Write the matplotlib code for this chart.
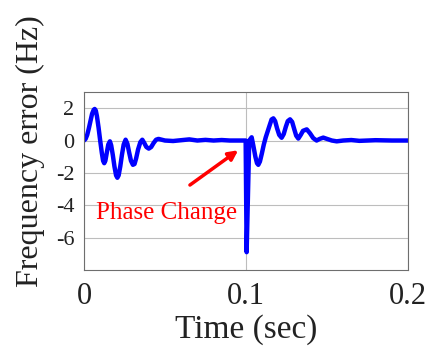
import matplotlib
matplotlib.use("Agg")
import matplotlib.pyplot as plt

plt.rcParams['font.family'] = ['Liberation Serif', 'DejaVu Serif']
plt.rcParams['axes.unicode_minus'] = False

# frequency error trace (time in s, error in Hz)
time_s = [0.000, 0.001, 0.002, 0.003, 0.004, 0.005, 0.006, 0.0066, 0.0073,
          0.008, 0.009, 0.010, 0.011, 0.0118, 0.0125, 0.0132, 0.014, 0.015,
          0.016, 0.0168, 0.0178, 0.0188, 0.0198, 0.0206, 0.0214, 0.0224,
          0.0234, 0.0245, 0.0257, 0.0268, 0.0278, 0.029, 0.0302, 0.0312,
          0.0322, 0.0334, 0.0348, 0.036, 0.0372, 0.0385, 0.040, 0.0415,
          0.043, 0.0445, 0.046, 0.048, 0.050, 0.055, 0.060, 0.065, 0.070,
          0.075, 0.080, 0.085, 0.090, 0.0998,
          0.1004, 0.1020, 0.1035, 0.1045, 0.1058, 0.1068, 0.1076, 0.1086,
          0.1098, 0.111, 0.1122, 0.1135, 0.1148, 0.1158, 0.1169, 0.118,
          0.1192, 0.1205, 0.122, 0.1233, 0.1246, 0.1258, 0.1272, 0.1285,
          0.1298, 0.131, 0.1323, 0.1338, 0.1352, 0.1375, 0.1395, 0.1415,
          0.1436, 0.1455, 0.1477, 0.150, 0.153, 0.156, 0.160, 0.165, 0.170,
          0.180, 0.190, 0.200]
freq_err = [0.0, 0.1, 0.35, 0.75, 1.2, 1.65, 1.9, 1.95, 1.85,
            1.5, 0.8, 0.0, -0.75, -1.25, -1.4, -1.25, -0.8, -0.25,
            -0.05, -0.3, -0.9, -1.6, -2.15, -2.3, -2.15, -1.6,
            -0.9, -0.25, 0.05, -0.2, -0.7, -1.25, -1.5, -1.45,
            -1.1, -0.55, -0.1, 0.05, -0.15, -0.4, -0.5, -0.4,
            -0.15, 0.05, 0.1, 0.05, 0.0, -0.03, 0.02, 0.07, 0.0,
            0.04, 0.0, 0.03, 0.0, 0.0,
            -6.9, 0.0, 0.2, -0.3, -1.0, -1.4, -1.5, -1.3,
            -0.8, -0.25, 0.2, 0.6, 1.0, 1.3, 1.37, 1.2,
            0.75, 0.35, 0.17, 0.4, 0.85, 1.2, 1.31, 1.15,
            0.7, 0.3, 0.12, 0.35, 0.6, 0.69, 0.45, 0.15,
            0.0, 0.1, 0.18, 0.1, 0.0, -0.05, 0.0, 0.03, -0.02,
            0.02, 0.0, 0.0]

x_ticks = [0, 0.1, 0.2]
x_tick_labels = ['0', '0.1', '0.2']
y_ticks = [2, 0, -2, -4, -6]
y_tick_labels = ['2', '0', '-2', '-4', '-6']

fig = plt.figure(figsize=(4.30, 3.52), dpi=100)
ax = fig.add_axes([0.1953, 0.2330, 0.7535, 0.5057])

ax.plot(time_s, freq_err, color='#0000ff', linewidth=3.2,
        solid_joinstyle='round', solid_capstyle='round')

ax.set_xlim(0, 0.2)
ax.set_ylim(-8, 3)
ax.set_xticks(x_ticks)
ax.set_xticklabels(x_tick_labels, fontsize=22)
ax.set_yticks(y_ticks)
ax.set_yticklabels(y_tick_labels, fontsize=16)
ax.tick_params(axis='both', length=0, colors='#222222')
ax.tick_params(axis='x', pad=9)
ax.tick_params(axis='y', pad=7)

ax.grid(True, color='#bdbdbd', linewidth=0.8)
ax.set_axisbelow(True)
for sp in ax.spines.values():
    sp.set_color('#6e6e6e')
    sp.set_linewidth(0.8)

ax.set_xlabel('Time (sec)', fontsize=24, color='#222222', labelpad=2)
ax.set_ylabel('Frequency error (Hz)', fontsize=23, color='#222222')
ax.yaxis.set_label_coords(-0.12, 0.668)

ax.annotate('', xy=(0.0952, -0.6), xytext=(0.0654, -2.75),
            arrowprops=dict(arrowstyle='-|>', color='#ff0000', lw=2.5,
                            mutation_scale=14, shrinkA=0, shrinkB=0))
ax.text(0.0512, -4.5, 'Phase Change', color='#ff0000', fontsize=18,
        ha='center', va='center')

fig.savefig('out.png', dpi=100)
